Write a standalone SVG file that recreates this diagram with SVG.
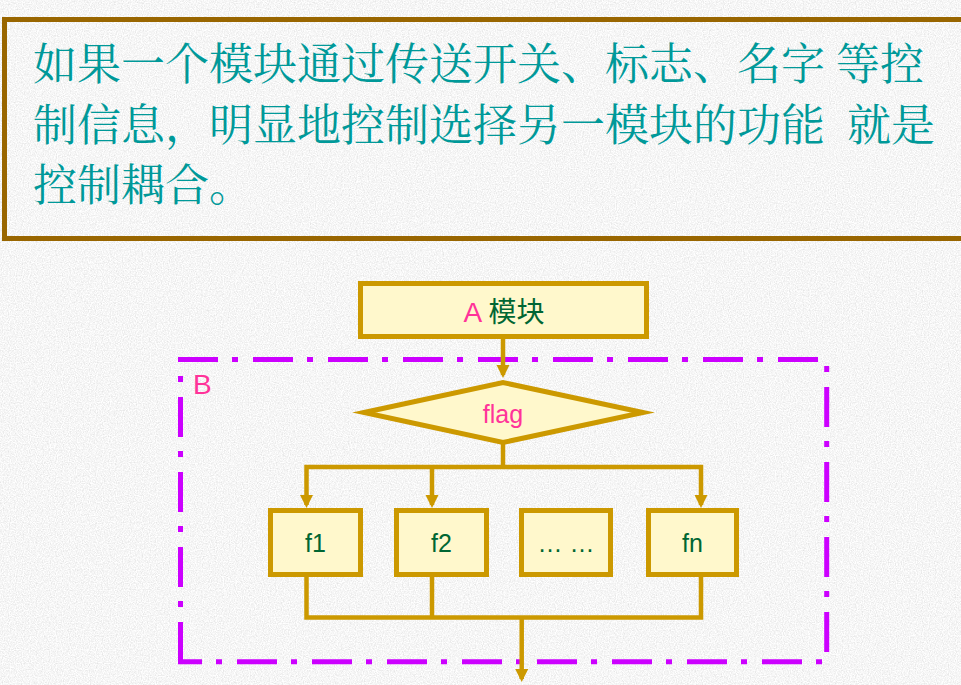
<svg xmlns="http://www.w3.org/2000/svg" width="961" height="685" viewBox="0 0 961 685">
<defs>
<filter id="granite" x="0" y="0" width="100%" height="100%">
<feTurbulence type="fractalNoise" baseFrequency="0.85" numOctaves="2" seed="3" result="n"/>
<feColorMatrix in="n" type="matrix" values="0.4 0 0 0 0.72  0.4 0 0 0 0.72  0.4 0 0 0 0.72  0 0 0 0 1"/>
</filter>
<marker id="ah" markerUnits="userSpaceOnUse" markerWidth="14" markerHeight="14" refX="10" refY="6.5" orient="auto-start-reverse" viewBox="0 0 14 14">
<path d="M0,0 L13,6.5 L0,13 z" fill="#CC9900"/>
</marker>
<style>
.head{font-family:"Noto Serif CJK SC","Noto Sans CJK SC",serif;font-size:44px;fill:#009999}
.box{fill:#FFF8CC;stroke:#CC9900;stroke-width:5}
.lbl{font-family:"Liberation Sans","Noto Sans CJK SC",sans-serif;font-size:25px;fill:#006633;text-anchor:middle}
.big{font-size:28px}
.pink{fill:#FF3399}
.conn{fill:none;stroke:#CC9900;stroke-width:4.5;stroke-linejoin:miter}
.dash{fill:none;stroke:#CC00FF;stroke-width:5;stroke-dasharray:40 14 6 15}
</style>
</defs>
<rect width="961" height="685" fill="#EBEBEB"/>
<rect width="961" height="685" filter="url(#granite)"/>

<g id="intro">
<rect x="4.5" y="19.5" width="970" height="219" fill="none" stroke="#996600" stroke-width="5"/>
<text class="head" x="33" y="80">如果一个模块通过传送开关、标志、名字</text>
<text class="head" x="836" y="80">等控</text>
<text class="head" x="33" y="140.5">制信息，明显地控制选择另一模块的功能</text>
<text class="head" x="847" y="140.5">就是</text>
<text class="head" x="33" y="201">控制耦合。</text>
</g>

<g id="moduleB">
<path class="dash" d="M178,359.5 H829" stroke-dashoffset="0"/>
<path class="dash" d="M826.7,357 V664" stroke-dashoffset="45"/>
<path class="dash" d="M178,661.7 H829" stroke-dashoffset="16"/>
<path class="dash" d="M180.5,357 V664" stroke-dashoffset="35"/>
<text x="193" y="394" font-family="Liberation Sans, sans-serif" font-size="28" fill="#FF3399">B</text>
</g>

<g id="connectors">
<path class="conn" d="M503,339 V375" marker-end="url(#ah)"/>
<path class="conn" d="M503,443 V467"/>
<path class="conn" d="M306.5,505 V467 H701 V505" marker-start="url(#ah)" marker-end="url(#ah)"/>
<path class="conn" d="M432,467 V505" marker-end="url(#ah)"/>
<path class="conn" d="M306.5,577 V617.5 H701 V577"/>
<path class="conn" d="M432,577 V617.5"/>
<path class="conn" d="M521.7,617.5 V679" marker-end="url(#ah)"/>
</g>

<g id="moduleA">
<rect class="box" x="360.5" y="283.5" width="286" height="53"/>
<text class="lbl big" x="504" y="322"><tspan class="pink">A</tspan> 模块</text>
</g>

<g id="flag">
<polygon class="box" points="364,412.5 503,382.5 643,412.5 503,442.5" stroke-miterlimit="10"/>
<text class="lbl pink" x="503" y="423">flag</text>
</g>

<g id="f1">
<rect class="box" x="270.5" y="510.5" width="90" height="64"/>
<text class="lbl" x="315.5" y="552">f1</text>
</g>
<g id="f2">
<rect class="box" x="396.5" y="510.5" width="90" height="64"/>
<text class="lbl" x="441.5" y="552">f2</text>
</g>
<g id="fdots">
<rect class="box" x="521.5" y="510.5" width="89" height="64"/>
<text class="lbl" x="566" y="552">… …</text>
</g>
<g id="fn">
<rect class="box" x="648.5" y="510.5" width="88" height="64"/>
<text class="lbl" x="692.5" y="552">fn</text>
</g>
</svg>
